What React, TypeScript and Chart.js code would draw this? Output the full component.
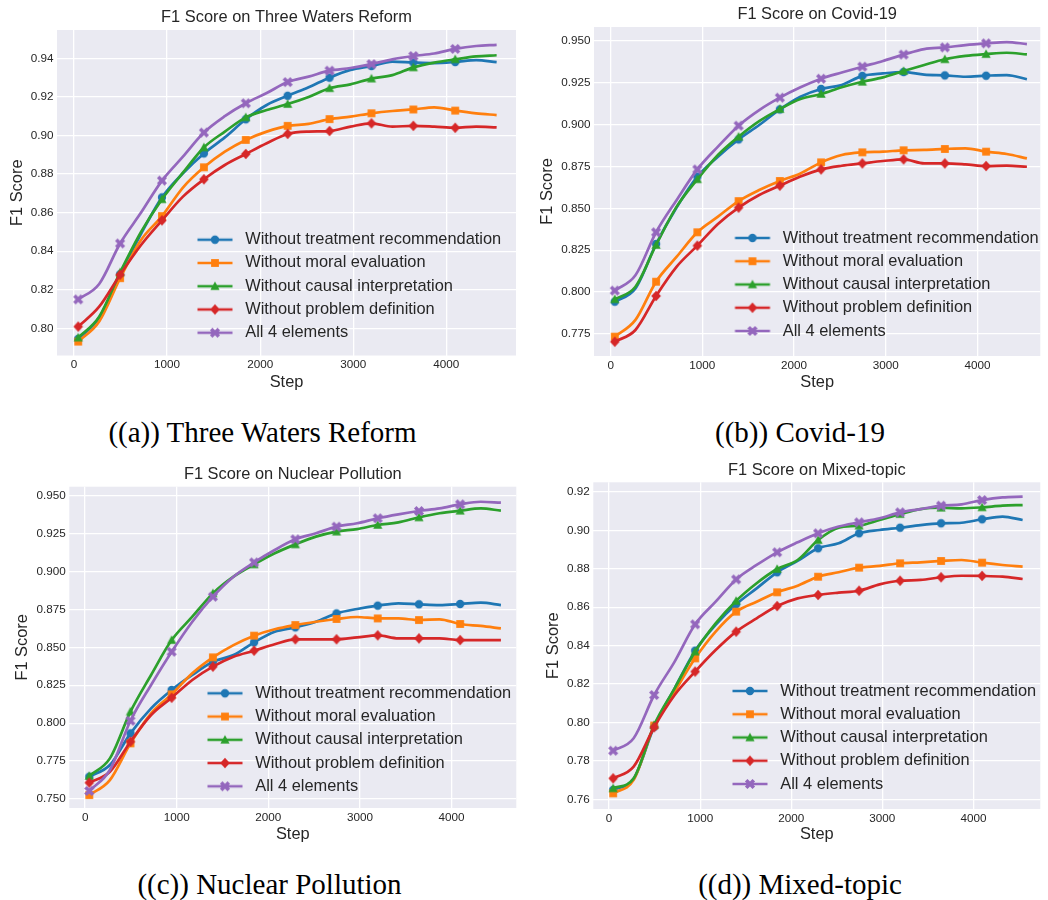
import React, { useEffect, useRef } from 'react';
import { Chart, registerables } from 'chart.js';

Chart.register(...registerables);

// ---------------- data ----------------
const steps = [45, 270, 495, 720, 945, 1170, 1395, 1620, 1845, 2070, 2295, 2520, 2745, 2970, 3195, 3420, 3645, 3870, 4095, 4320, 4540];
const xTickValues = [0, 1000, 2000, 3000, 4000];
const yTicksA = [0.8, 0.82, 0.84, 0.86, 0.88, 0.9, 0.92, 0.94];
const yTicksB = [0.775, 0.8, 0.825, 0.85, 0.875, 0.9, 0.925, 0.95];
const yTicksC = [0.75, 0.775, 0.8, 0.825, 0.85, 0.875, 0.9, 0.925, 0.95];
const yTicksD = [0.76, 0.78, 0.8, 0.82, 0.84, 0.86, 0.88, 0.9, 0.92];

const seriesNames = [
  'Without treatment recommendation',
  'Without moral evaluation',
  'Without causal interpretation',
  'Without problem definition',
  'All 4 elements',
];

// (a) Three Waters Reform
const watersTreatment = [0.7945, 0.8055, 0.828, 0.849, 0.8679, 0.8804, 0.8907, 0.899, 0.9084, 0.9158, 0.9206, 0.925, 0.93, 0.934, 0.936, 0.9383, 0.9378, 0.9375, 0.9381, 0.9391, 0.938];
const watersMoral = [0.7931, 0.8035, 0.826, 0.8458, 0.8582, 0.873, 0.8835, 0.8916, 0.8977, 0.902, 0.905, 0.906, 0.9085, 0.9098, 0.9115, 0.9127, 0.9135, 0.9146, 0.9129, 0.9115, 0.9106];
const watersCausal = [0.7952, 0.806, 0.829, 0.85, 0.8669, 0.8807, 0.8938, 0.902, 0.9094, 0.9132, 0.9163, 0.92, 0.9245, 0.9265, 0.9295, 0.9313, 0.9353, 0.9378, 0.9395, 0.941, 0.9416];
const watersProblem = [0.8009, 0.8112, 0.8278, 0.8432, 0.856, 0.8683, 0.8773, 0.8847, 0.8904, 0.896, 0.9008, 0.902, 0.9023, 0.9046, 0.9063, 0.9046, 0.905, 0.9046, 0.904, 0.9046, 0.9042];
const watersAll = [0.815, 0.823, 0.844, 0.86, 0.8766, 0.889, 0.9015, 0.91, 0.9167, 0.922, 0.9277, 0.9305, 0.9336, 0.935, 0.937, 0.9395, 0.9412, 0.9425, 0.9449, 0.9464, 0.947];

// (b) Covid-19
const covidTreatment = [0.7943, 0.8022, 0.8287, 0.8506, 0.8689, 0.8808, 0.8911, 0.8997, 0.909, 0.9166, 0.9212, 0.9236, 0.929, 0.9305, 0.9313, 0.9297, 0.9293, 0.9285, 0.9291, 0.9295, 0.927];
const covidMoral = [0.7734, 0.7834, 0.8062, 0.8211, 0.8357, 0.845, 0.8543, 0.8609, 0.8663, 0.8708, 0.8774, 0.8818, 0.8834, 0.8838, 0.8846, 0.8848, 0.8854, 0.8858, 0.8838, 0.8824, 0.8798];
const covidCausal = [0.7957, 0.8032, 0.8281, 0.851, 0.8673, 0.8818, 0.8927, 0.902, 0.9092, 0.9152, 0.9182, 0.9222, 0.9255, 0.9281, 0.9319, 0.9355, 0.9389, 0.9409, 0.942, 0.9428, 0.9418];
const covidProblem = [0.7704, 0.7774, 0.7977, 0.8152, 0.8277, 0.8406, 0.8504, 0.8579, 0.8635, 0.8689, 0.8732, 0.8754, 0.8768, 0.8782, 0.8792, 0.8768, 0.8768, 0.8762, 0.8752, 0.8754, 0.8748];
const covidAll = [0.8009, 0.81, 0.8357, 0.855, 0.8732, 0.8868, 0.8993, 0.9086, 0.916, 0.9222, 0.9273, 0.931, 0.9345, 0.9379, 0.9417, 0.945, 0.946, 0.9474, 0.9484, 0.9492, 0.948];

// (c) Nuclear Pollution
const nuclearTreatment = [0.7647, 0.7724, 0.7933, 0.8098, 0.8219, 0.8318, 0.8405, 0.8449, 0.8533, 0.8603, 0.8632, 0.8669, 0.8724, 0.8753, 0.8775, 0.879, 0.8784, 0.8779, 0.8786, 0.8795, 0.8779];
const nuclearMoral = [0.7526, 0.7625, 0.7867, 0.8065, 0.819, 0.8329, 0.8434, 0.8515, 0.8577, 0.8619, 0.8647, 0.8669, 0.8687, 0.87, 0.8691, 0.8691, 0.868, 0.8685, 0.8654, 0.8641, 0.8625];
const nuclearCausal = [0.7652, 0.7768, 0.8076, 0.8318, 0.8548, 0.8702, 0.8856, 0.8966, 0.9047, 0.912, 0.9179, 0.923, 0.9263, 0.928, 0.9307, 0.9324, 0.9357, 0.9384, 0.9401, 0.9416, 0.9401];
const nuclearProblem = [0.7608, 0.768, 0.7878, 0.8054, 0.8168, 0.8285, 0.8373, 0.8438, 0.8478, 0.852, 0.8553, 0.8553, 0.8553, 0.8566, 0.8579, 0.8559, 0.8559, 0.8559, 0.8548, 0.8548, 0.8548];
const nuclearAll = [0.7553, 0.7691, 0.8016, 0.8252, 0.8471, 0.8669, 0.8834, 0.8966, 0.906, 0.9142, 0.9212, 0.9252, 0.9296, 0.9318, 0.9351, 0.9377, 0.9399, 0.9416, 0.9443, 0.946, 0.9454];

// (d) Mixed-topic
const mixedTreatment = [0.7649, 0.7706, 0.7978, 0.8178, 0.8374, 0.8508, 0.8615, 0.8698, 0.8782, 0.8841, 0.8907, 0.8933, 0.8985, 0.9002, 0.9014, 0.9028, 0.9037, 0.904, 0.9058, 0.9072, 0.9054];
const mixedMoral = [0.7631, 0.7701, 0.7984, 0.8161, 0.8334, 0.8473, 0.8577, 0.8629, 0.8678, 0.8712, 0.8759, 0.8782, 0.8806, 0.8815, 0.8829, 0.8834, 0.8841, 0.8846, 0.8832, 0.882, 0.8811];
const mixedCausal = [0.7657, 0.7709, 0.7987, 0.8178, 0.8369, 0.8516, 0.8633, 0.8725, 0.8799, 0.8846, 0.895, 0.9014, 0.9025, 0.9054, 0.9085, 0.9111, 0.9118, 0.9115, 0.912, 0.9129, 0.9132];
const mixedProblem = [0.7709, 0.777, 0.7975, 0.8143, 0.8265, 0.8377, 0.8473, 0.8542, 0.8606, 0.8646, 0.8664, 0.8676, 0.8686, 0.8719, 0.8738, 0.8742, 0.8756, 0.8764, 0.8763, 0.8759, 0.8747];
const mixedAll = [0.7853, 0.7918, 0.8143, 0.8317, 0.8511, 0.8629, 0.8745, 0.882, 0.8886, 0.8938, 0.8985, 0.902, 0.9042, 0.9063, 0.9094, 0.9111, 0.9129, 0.9136, 0.9158, 0.9172, 0.9176];

// ---------------- styling ----------------
const COLORS = ['#1f77b4', '#ff7f0e', '#2ca02c', '#d62728', '#9467bd'];
const SHAPES = ['circle', 'square', 'triangle', 'diamond', 'x'];
const TEXT = '#262626';
const SANS = '"Liberation Sans", Arial, Helvetica, sans-serif';
const SERIF = '"Liberation Serif", "Times New Roman", Times, serif';
const CW = 524;
const CH = 400;
const LABEL_SIZE = 16.4;
const LEGEND_SIZE = 16.4;
const TICK_SIZE = 11.7;

type PanelCfg = {
  left: number; top: number;
  area: { left: number; top: number; right: number; bottom: number };
  xRange: [number, number]; yRange: [number, number];
  yTicks: number[]; yDec: number;
  titleY: number; yTitleX: number; xTitleY: number;
  legendX: number; legendRow0: number;
  title: string; caption: string; capX: number; capY: number;
  series: number[][];
};

const panels: PanelCfg[] = [
  {
    left: 0, top: 0,
    area: { left: 57, top: 30, right: 516, bottom: 355.5 },
    xRange: [-183, 4748], yRange: [0.7859, 0.9547], yTicks: yTicksA, yDec: 2,
    titleY: 17.3, yTitleX: 17.3, xTitleY: 382.7, legendX: 215, legendRow0: 239.7,
    title: 'F1 Score on Three Waters Reform', caption: '((a)) Three Waters Reform', capX: 262.5, capY: 432,
    series: [watersTreatment, watersMoral, watersCausal, watersProblem, watersAll],
  },
  {
    left: 524, top: 0,
    area: { left: 70, top: 27, right: 524, bottom: 356 },
    xRange: [-182, 4686], yRange: [0.76187, 0.95817], yTicks: yTicksB, yDec: 3,
    titleY: 14, yTitleX: 23.3, xTitleY: 382.7, legendX: 228.5, legendRow0: 238,
    title: 'F1 Score on Covid-19', caption: '((b)) Covid-19', capX: 800, capY: 432,
    series: [covidTreatment, covidMoral, covidCausal, covidProblem, covidAll],
  },
  {
    left: 0, top: 452,
    area: { left: 69.3, top: 34.7, right: 520, bottom: 356 },
    xRange: [-173, 4708], yRange: [0.74407, 0.95593], yTicks: yTicksC, yDec: 3,
    titleY: 22.3, yTitleX: 22.7, xTitleY: 382.3, legendX: 225, legendRow0: 241.3,
    title: 'F1 Score on Nuclear Pollution', caption: '((c)) Nuclear Pollution', capX: 269.5, capY: 884,
    series: [nuclearTreatment, nuclearMoral, nuclearCausal, nuclearProblem, nuclearAll],
  },
  {
    left: 524, top: 452,
    area: { left: 69.3, top: 30.3, right: 524, bottom: 357 },
    xRange: [-173, 4734], yRange: [0.75495, 0.92505], yTicks: yTicksD, yDec: 2,
    titleY: 18, yTitleX: 29.3, xTitleY: 382.3, legendX: 226, legendRow0: 239,
    title: 'F1 Score on Mixed-topic', caption: '((d)) Mixed-topic', capX: 800, capY: 884,
    series: [mixedTreatment, mixedMoral, mixedCausal, mixedProblem, mixedAll],
  },
];

// ---------------- marker images ----------------
function makeMarker(shape: string, color: string): HTMLCanvasElement {
  const c = document.createElement('canvas');
  c.width = 14; c.height = 14;
  const g = c.getContext('2d')!;
  g.fillStyle = color;
  const m = 7;
  g.beginPath();
  if (shape === 'circle') {
    g.arc(m, m, 4.2, 0, Math.PI * 2);
  } else if (shape === 'square') {
    g.rect(m - 3.9, m - 3.9, 7.8, 7.8);
  } else if (shape === 'triangle') {
    g.moveTo(m, m - 4.8); g.lineTo(m + 4.6, m + 3.8); g.lineTo(m - 4.6, m + 3.8); g.closePath();
  } else if (shape === 'diamond') {
    g.moveTo(m, m - 5.2); g.lineTo(m + 4.8, m); g.lineTo(m, m + 5.2); g.lineTo(m - 4.8, m); g.closePath();
  } else {
    g.translate(m, m); g.rotate(Math.PI / 4);
    const L = 5.4, w = 1.8;
    const pts = [[w, L], [w, w], [L, w], [L, -w], [w, -w], [w, -L], [-w, -L], [-w, -w], [-L, -w], [-L, w], [-w, w], [-w, L]];
    pts.forEach((p, i) => (i === 0 ? g.moveTo(p[0], p[1]) : g.lineTo(p[0], p[1])));
    g.closePath();
  }
  g.fill();
  return c;
}

function makeLegendIcon(marker: HTMLCanvasElement, color: string): HTMLCanvasElement {
  const c = document.createElement('canvas');
  c.width = 44; c.height = 16;
  const g = c.getContext('2d')!;
  g.strokeStyle = color; g.lineWidth = 2.7;
  g.beginPath(); g.moveTo(4.5, 8); g.lineTo(39.5, 8); g.stroke();
  g.drawImage(marker, 22 - 7, 8 - 7);
  return c;
}

const bgPlugin = {
  id: 'plotBg',
  beforeDraw(chart: any) {
    const { ctx, chartArea: a } = chart;
    ctx.save();
    ctx.fillStyle = '#EAEAF2';
    ctx.fillRect(a.left, a.top, a.right - a.left, a.bottom - a.top);
    ctx.restore();
  },
};

function Panel({ cfg }: { cfg: PanelCfg }) {
  const ref = useRef<HTMLCanvasElement>(null);
  useEffect(() => {
    const markers = SHAPES.map((s, i) => makeMarker(s, COLORS[i]));
    const icons = markers.map((mk, i) => makeLegendIcon(mk, COLORS[i]));
    const n = steps.length;
    const lineH = LABEL_SIZE * 1.2;
    const legendPad = 23.25 - LEGEND_SIZE;
    const legendPlacer = {
      id: 'legendPlacer',
      afterLayout(chart: any) {
        const lg = chart.legend;
        if (!lg) return;
        const top = cfg.legendRow0 - LEGEND_SIZE / 2 - legendPad;
        const left = cfg.legendX - 22 - legendPad;
        const w = lg.width;
        lg.left = left; lg.right = left + w;
        lg.top = top; lg.bottom = CH + 200; lg.height = lg.bottom - top;
      },
    };
    const chart = new Chart(ref.current!, {
      type: 'line',
      data: {
        datasets: cfg.series.map((vals, i) => ({
          label: seriesNames[i],
          data: steps.map((x, k) => ({ x, y: vals[k] })),
          borderColor: COLORS[i],
          backgroundColor: COLORS[i],
          borderWidth: 2.7,
          borderJoinStyle: 'round',
          cubicInterpolationMode: 'monotone',
          pointStyle: markers[i],
          pointRadius: (c: any) => (c.dataIndex % 2 === 0 && c.dataIndex < n - 1 ? 5 : 0),
          pointHoverRadius: 0,
          order: 4 - i,
        })),
      } as any,
      options: {
        animation: false,
        responsive: false,
        events: [],
        layout: { padding: { top: 0, left: 0, bottom: 0, right: CW - cfg.area.right } },
        scales: {
          x: {
            type: 'linear',
            min: cfg.xRange[0], max: cfg.xRange[1],
            border: { display: false },
            grid: { color: '#ffffff', lineWidth: 1.3, drawTicks: false },
            afterBuildTicks: (s: any) => { s.ticks = xTickValues.map((v) => ({ value: v })); },
            ticks: {
              maxRotation: 0, autoSkip: false,
              padding: 2.5, color: TEXT, font: { family: SANS, size: TICK_SIZE },
              callback: (v: any) => String(Math.round(Number(v))),
            },
            title: {
              display: true, text: 'Step', color: TEXT,
              font: { family: SANS, size: LABEL_SIZE, lineHeight: 1.2 },
              padding: { top: 0, bottom: CH - cfg.xTitleY - lineH / 2 },
            },
            afterFit: (s: any) => { s.height = CH - cfg.area.bottom; },
          },
          y: {
            type: 'linear',
            min: cfg.yRange[0], max: cfg.yRange[1],
            border: { display: false },
            grid: { color: '#ffffff', lineWidth: 1.3, drawTicks: false },
            afterBuildTicks: (s: any) => { s.ticks = cfg.yTicks.map((v) => ({ value: v })); },
            ticks: {
              autoSkip: false,
              padding: 3.5, color: TEXT, font: { family: SANS, size: TICK_SIZE },
              callback: (v: any) => Number(v).toFixed(cfg.yDec),
            },
            title: {
              display: true, text: 'F1 Score', color: TEXT,
              font: { family: SANS, size: LABEL_SIZE, lineHeight: 1.2 },
              padding: { top: cfg.yTitleX - lineH / 2, bottom: 0 },
            },
            afterFit: (s: any) => { s.width = cfg.area.left; },
          },
        },
        plugins: {
          tooltip: { enabled: false },
          title: {
            display: true, text: cfg.title, color: TEXT, fullSize: false,
            font: { family: SANS, size: LABEL_SIZE, weight: 'normal', lineHeight: 1.2 },
            padding: { top: cfg.titleY - lineH / 2, bottom: cfg.area.top - (cfg.titleY - lineH / 2) - lineH },
          },
          legend: {
            display: true,
            position: 'chartArea',
            align: 'start',
            labels: {
              usePointStyle: true,
              pointStyleWidth: 44,
              boxHeight: 16,
              padding: legendPad,
              color: TEXT,
              font: { family: SANS, size: LEGEND_SIZE },
              generateLabels: (ch: any) => ch.data.datasets.map((ds: any, i: number) => ({
                text: ds.label,
                pointStyle: icons[i],
                fillStyle: COLORS[i],
                strokeStyle: COLORS[i],
                fontColor: TEXT,
                lineWidth: 0,
                hidden: false,
                datasetIndex: i,
              })),
            },
          },
        },
      } as any,
      plugins: [bgPlugin, legendPlacer],
    });
    return () => chart.destroy();
  }, []);
  return (
    <canvas
      ref={ref}
      width={CW}
      height={CH}
      style={{ position: 'absolute', left: cfg.left, top: cfg.top, width: CW, height: CH }}
    />
  );
}

export default function App() {
  return (
    <div style={{ position: 'absolute', left: 0, top: 0, width: 1048, height: 900, overflow: 'hidden', background: '#ffffff' }}>
      {panels.map((p, i) => (
        <Panel key={i} cfg={p} />
      ))}
      {panels.map((p, i) => (
        <div
          key={'c' + i}
          style={{
            position: 'absolute', left: p.capX - 300, width: 600, top: p.capY - 19, height: 38,
            lineHeight: '38px', textAlign: 'center', fontFamily: SERIF, fontSize: 29, color: '#000',
            whiteSpace: 'nowrap',
          }}
        >
          {p.caption}
        </div>
      ))}
    </div>
  );
}
